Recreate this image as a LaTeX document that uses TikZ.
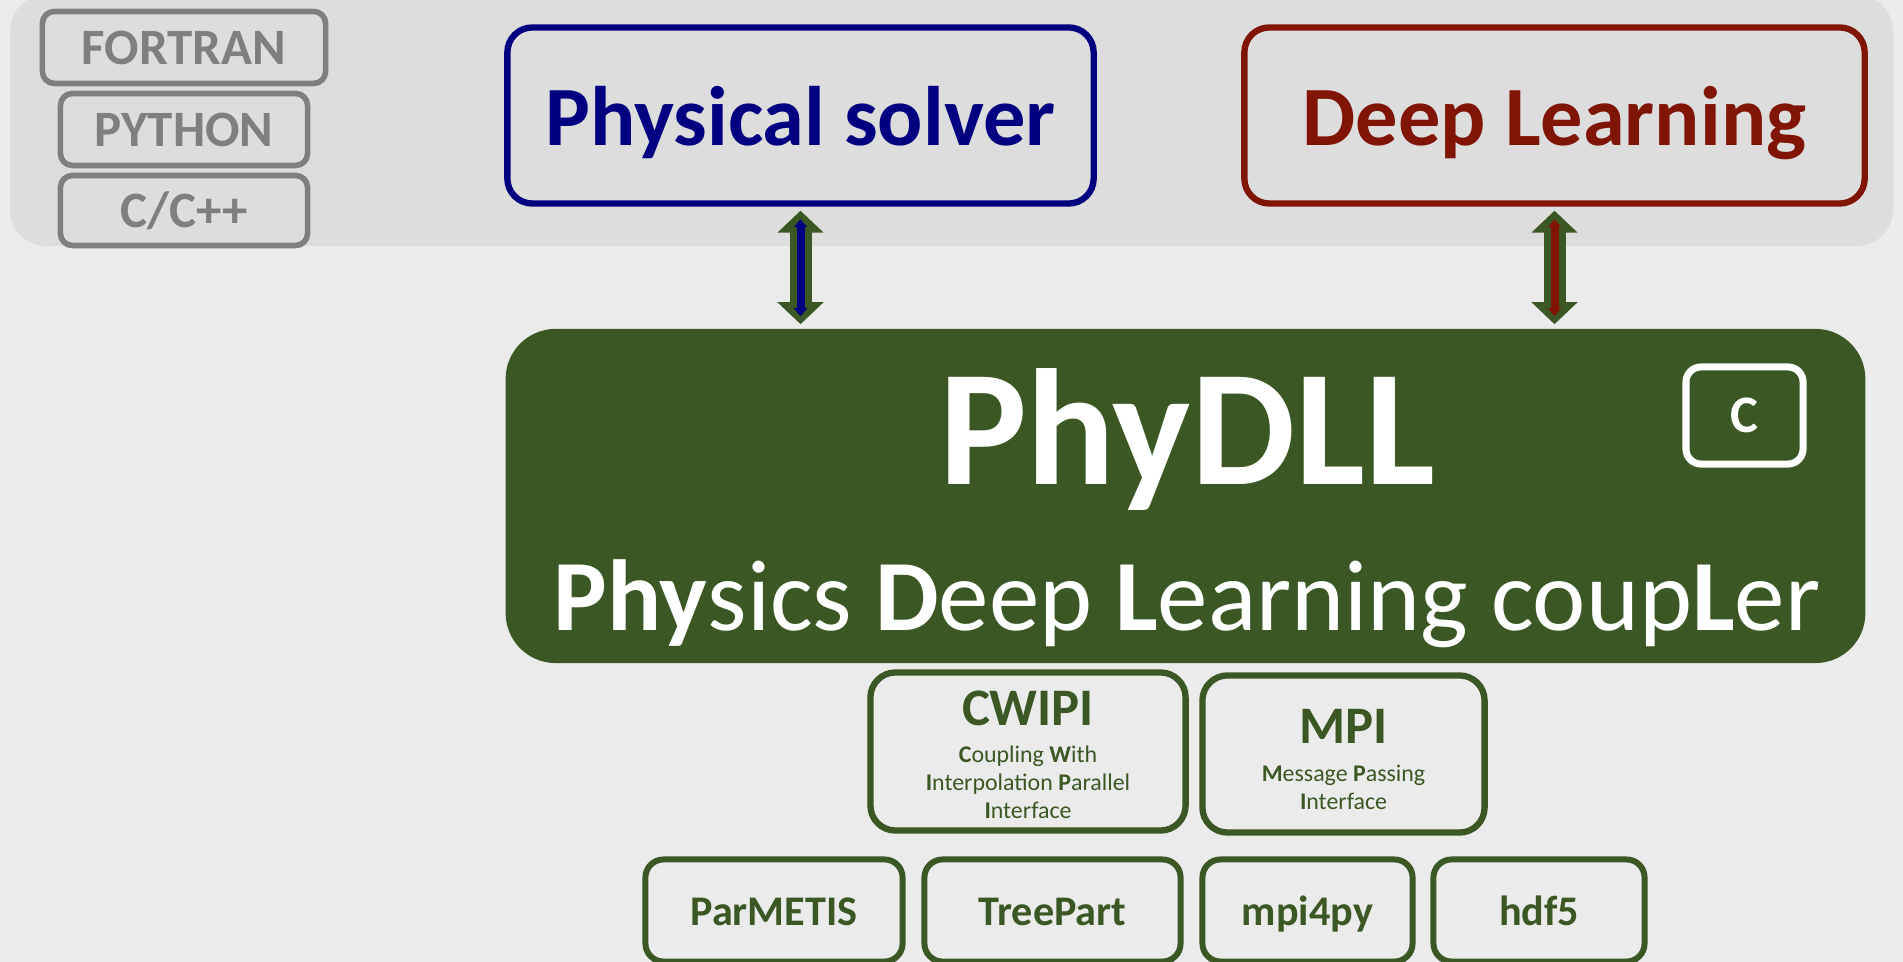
\documentclass[tikz,border=0pt]{standalone}
\usepackage{fontspec}
\setmainfont{Carlito}
\usetikzlibrary{arrows.meta}
\definecolor{bggray}{RGB}{235,235,235}
\definecolor{bandgray}{RGB}{221,221,221}
\definecolor{langgray}{RGB}{127,127,127}
\definecolor{solvblue}{RGB}{0,0,128}
\definecolor{dlred}{RGB}{128,20,5}
\definecolor{cplgreen}{RGB}{59,87,36}
\begin{document}
\begin{tikzpicture}[x=0.01cm,y=-0.01cm,
   lang/.style={draw=langgray,line width=1.6pt,rounded corners=1.2mm,inner sep=0pt,
     text height=0.35cm,text depth=0pt,text=langgray,font=\fontsize{14.5}{17}\selectfont\bfseries},
   tool/.style={line width=1.8pt,rounded corners=2.5mm,inner sep=0pt,minimum height=1.76cm,
     text height=0.8cm,text depth=0.2cm,font=\fontsize{24}{29}\selectfont\bfseries},
   lib/.style={draw=cplgreen,line width=1.8pt,rounded corners=2.5mm,inner sep=0pt},
   dep/.style={draw=cplgreen,line width=1.7pt,rounded corners=1.8mm,inner sep=0pt,
     minimum height=1.02cm,text height=0.29cm,text depth=0pt,text=cplgreen,
     font=\fontsize{12}{14}\selectfont\bfseries},
   libtitle/.style={anchor=base,inner sep=0pt,text=cplgreen,font=\fontsize{15}{18}\selectfont\bfseries},
   libtext/.style={anchor=base,inner sep=0pt,text=cplgreen,align=center,font=\fontsize{6.8}{8.1}\selectfont},
   fatarrow/.style={draw=cplgreen,line width=0.22cm,shorten <=0.04cm,shorten >=0.04cm,
     {Triangle[length=0.22cm,width=0.45cm]}-{Triangle[length=0.22cm,width=0.45cm]}},
   thinarrow/.style={line width=0.08cm,shorten <=0.125cm,shorten >=0.12cm,
     {Triangle[length=0.08cm,width=0.13cm]}-{Triangle[length=0.08cm,width=0.13cm]}}]
  % background
  \useasboundingbox (0,0) rectangle (1903,962);
  \fill[bggray] (0,0) rectangle (1903,962);
  \fill[bandgray,rounded corners=3.6mm] (10,-5) rectangle (1893,246);
  % languages
  \node[lang,minimum width=2.83cm,minimum height=0.72cm] (fortran) at (184,47.5) {FORTRAN};
  \node[lang,minimum width=2.47cm,minimum height=0.72cm] (python)  at (184,129.5) {PYTHON};
  \node[lang,minimum width=2.47cm,minimum height=0.70cm] (cpp)     at (184,210.5) {C/C++};
  % solver and learning
  \node[tool,draw=solvblue,text=solvblue,minimum width=5.86cm] (solver) at (800.5,115.5) {Physical solver};
  \node[tool,draw=dlred,text=dlred,minimum width=6.2cm]        (learn)  at (1554.5,115.5) {Deep Learning};
  % coupler
  \node[fill=cplgreen,rounded corners=5mm,minimum width=13.59cm,minimum height=3.34cm] (phydll) at (1185.5,496) {};
  \node[anchor=base,text=white,font=\fontsize{47}{56}\selectfont\bfseries] (name) at (1187,485) {PhyDLL};
  \node[anchor=base,text=white,font=\fontsize{28.7}{34}\selectfont] (longname) at (1187,631)
     {\textbf{Phy}sics \textbf{D}eep \textbf{L}earning coup\textbf{L}er};
  \node[draw=white,line width=2pt,rounded corners=1.5mm,minimum width=1.17cm,minimum height=0.97cm,
     text=white,font=\fontsize{15}{18}\selectfont\bfseries] (cbox) at (1744.5,415.5) {C};
  % exchanges
  \draw[fatarrow] (solver.south) -- (solver.south |- phydll.north);
  \draw[thinarrow,solvblue] (solver.south) -- (solver.south |- phydll.north);
  \draw[fatarrow] (learn.south) -- (learn.south |- phydll.north);
  \draw[thinarrow,dlred] (learn.south) -- (learn.south |- phydll.north);
  % libraries
  \node[lib,minimum width=3.15cm,minimum height=1.58cm] (cwipi) at (1028,751.5) {};
  \node[libtitle] (cwipititle) at (1028,726) {CWIPI};
  \node[libtext] (cwipitext) at (1028,819)
     {\textbf{C}oupling \textbf{W}ith\\\textbf{I}nterpolation \textbf{P}arallel\\\textbf{I}nterface};
  \node[lib,minimum width=2.82cm,minimum height=1.57cm] (mpi) at (1343.5,754) {};
  \node[libtitle] (mpititle) at (1343.5,744) {MPI};
  \node[libtext] (mpitext) at (1343.5,810) {\textbf{M}essage \textbf{P}assing\\\textbf{I}nterface};
  % dependencies
  \node[dep,minimum width=2.57cm] (parmetis) at (774,910.5)    {ParMETIS};
  \node[dep,minimum width=2.56cm] (treepart) at (1052.5,910.5) {TreePart};
  \node[dep,minimum width=2.10cm] (mpifpy)   at (1307.5,910.5) {mpi4py};
  \node[dep,minimum width=2.11cm] (hdf)      at (1539,910.5)   {hdf5};
\end{tikzpicture}
\end{document}
